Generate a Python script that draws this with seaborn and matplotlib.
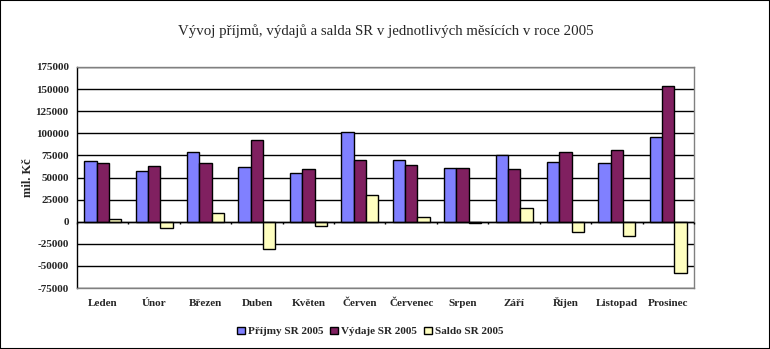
import matplotlib
matplotlib.use("Agg")
import matplotlib.pyplot as plt
from matplotlib.patches import Rectangle
import seaborn as sns
import pandas as pd
import numpy as np

months = ["Leden", "Únor", "Březen", "Duben", "Květen", "Červen",
          "Červenec", "Srpen", "Září", "Říjen", "Listopad", "Prosinec"]
prijmy = [69100, 57800, 78300, 62300, 55500, 101000, 70300, 61200, 75200, 68000, 66900, 95400]
vydaje = [66900, 63500, 66900, 92000, 60000, 70300, 64600, 60800, 60000, 79400, 80600, 153900]
saldo = [3000, -7200, 9900, -31000, -4900, 30400, 5300, -1000, 15600, -12000, -16700, -58000]
series_names = ["Příjmy SR 2005", "Výdaje SR 2005", "Saldo SR 2005"]
yticks = list(range(-75000, 175001, 25000))

df = pd.DataFrame({
    "month": months * 3,
    "series": [series_names[0]] * 12 + [series_names[1]] * 12 + [series_names[2]] * 12,
    "value": prijmy + vydaje + saldo,
})

sns.set_theme(style="white")
plt.rcParams["font.family"] = ["Liberation Serif", "DejaVu Serif"]

fig = plt.figure(figsize=(7.7, 3.49), dpi=100)
ax = fig.add_axes([77 / 770, 1 - 288 / 349, (694 - 77) / 770, (288 - 67) / 349])

palette = ["#8080FF", "#802060", "#FFFFC0"]
sns.barplot(data=df, x="month", y="value", hue="series", order=months,
            hue_order=series_names, palette=palette, width=0.72, gap=0,
            edgecolor="black", linewidth=1, saturation=1, ax=ax, legend=True,
            zorder=3)

ax.set_ylim(-75000, 175000)
ax.set_xlim(-0.5, len(months) - 0.5)
ax.set_yticks(yticks)
ax.set_yticklabels([str(v) for v in yticks], fontsize=8, fontweight="bold")
ax.yaxis.grid(True, color="black", linewidth=1)
ax.set_axisbelow(True)
ax.set_xlabel("")
ax.set_ylabel("mil. Kč", fontsize=9, fontweight="bold", labelpad=1)
ax.tick_params(axis="y", length=4, width=1, color="black", direction="out", pad=2)
ax.tick_params(axis="x", length=0, pad=13)
for lbl in ax.get_xticklabels():
    lbl.set_fontsize(8)
    lbl.set_fontweight("bold")
    lbl.set_verticalalignment("baseline")
for side in ["top", "right", "bottom"]:
    ax.spines[side].set_color("#808080")
    ax.spines[side].set_linewidth(1)
ax.spines["left"].set_color("black")
ax.spines["left"].set_linewidth(1)

# category axis at zero with boundary tick marks
ax.axhline(0, color="black", linewidth=1, zorder=4)
bounds = np.arange(len(months) + 1) - 0.5
ax.vlines(bounds, 0, -3000, color="black", linewidth=1, zorder=4, clip_on=False)

ax.set_title("Vývoj příjmů, výdajů a salda SR v jednotlivých měsících v roce 2005",
             fontsize=10.7, pad=23)

leg = ax.legend(loc="upper center", bbox_to_anchor=(0.475, -0.155), ncol=3,
                frameon=False, fontsize=8, handlelength=0.7, handleheight=0.7,
                handletextpad=0.3, columnspacing=0.6, borderaxespad=0)
for t in leg.get_texts():
    t.set_fontweight("bold")

fig.patches.append(Rectangle((0, 0), 1, 1, transform=fig.transFigure,
                             fill=False, edgecolor="black", linewidth=1.5))
fig.savefig("out.png", dpi=100)
